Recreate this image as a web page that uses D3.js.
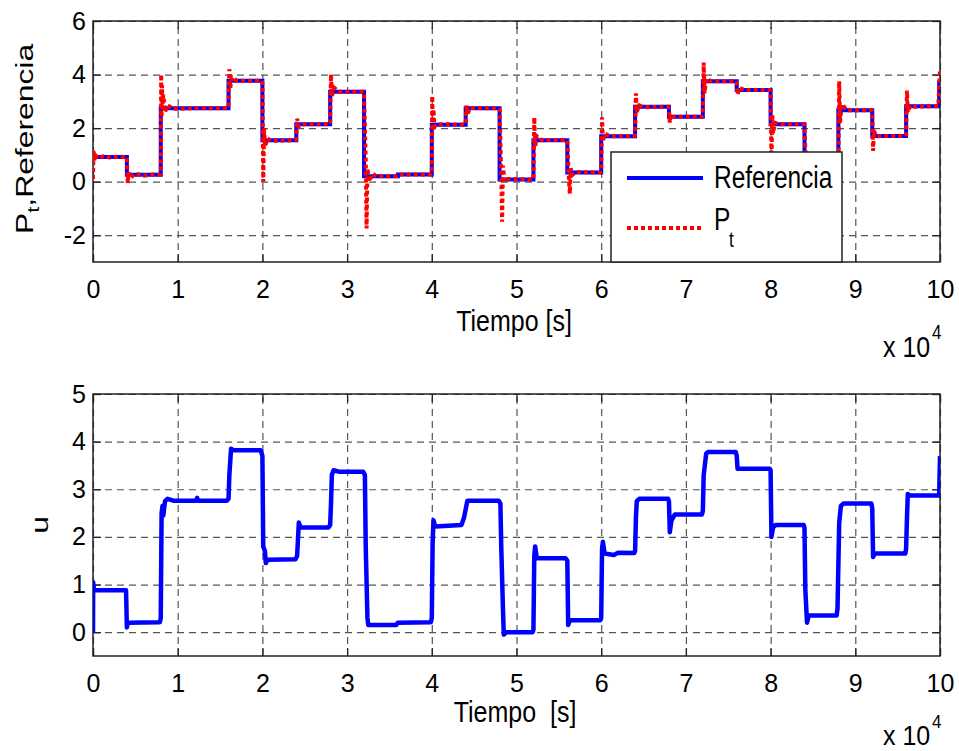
<!DOCTYPE html>
<html>
<head>
<meta charset="utf-8">
<script src="https://cdn.jsdelivr.net/npm/d3@7"></script>
<style>
  body { margin: 0; background: #fff; }
  text { font-family: "Liberation Sans", Arial, sans-serif; fill: #000; }
</style>
</head>
<body>
<div id="chart"></div>
<script>
const width = 959;
const height = 751;

// x axis is in units of 10^4 s
const xTicks = [0, 1, 2, 3, 4, 5, 6, 7, 8, 9, 10];
const topYTicks = [-2, 0, 2, 4, 6];
const botYTicks = [0, 1, 2, 3, 4, 5];

// reference setpoint: switching times and held levels
const refTimes = [0, 0.4, 0.8, 1.6, 2.0, 2.4, 2.8, 3.2, 3.6, 4.0, 4.4, 4.8, 5.2, 5.6,
                  6.0, 6.4, 6.8, 7.2, 7.6, 8.0, 8.4, 8.8, 9.2, 9.6, 9.99, 10.0];
const refLevels = [0.92, 0.26, 2.74, 3.77, 1.55, 2.14, 3.36, 0.2, 0.27, 2.13, 2.74, 0.08, 1.55, 0.34,
                   1.7, 2.8, 2.42, 3.75, 3.42, 2.14, 0.35, 2.67, 1.71, 2.82, 3.7, 3.7];

// measured output P_t  [t (x10^4 s), value]
const ptPoints = [
  [0, 0.1], [0.005, 1.15], [0.015, 0.8], [0.03, 0.98], [0.06, 0.86], [0.12, 0.95], [0.2, 0.9], [0.3, 0.93], [0.39, 0.92],
  [0.4, 0.9], [0.41, -0.05], [0.42, 0.35], [0.44, 0.15], [0.5, 0.3], [0.6, 0.22], [0.7, 0.27], [0.79, 0.26],
  [0.8, 0.3], [0.805, 4.0], [0.81, 2.4], [0.815, 3.6], [0.82, 2.9], [0.83, 3.25], [0.85, 2.6], [0.88, 2.85], [0.95, 2.72], [1.2, 2.74], [1.59, 2.74],
  [1.6, 2.8], [1.61, 4.2], [1.62, 3.5], [1.64, 3.9], [1.7, 3.77], [1.99, 3.77],
  [2.0, 3.7], [2.01, 0.0], [2.02, 2.0], [2.03, 1.3], [2.06, 1.62], [2.1, 1.52], [2.39, 1.55],
  [2.4, 1.6], [2.41, 2.35], [2.43, 2.05], [2.5, 2.15], [2.79, 2.14],
  [2.8, 2.2], [2.81, 4.0], [2.82, 3.2], [2.85, 3.5], [2.9, 3.36], [3.19, 3.36],
  [3.2, 3.3], [3.22, 0.8], [3.23, -1.75], [3.24, 0.5], [3.26, 0.0], [3.3, 0.3], [3.35, 0.2], [3.59, 0.2],
  [3.62, 0.27], [3.99, 0.27],
  [4.0, 0.3], [4.005, 3.2], [4.01, 2.3], [4.02, 2.7], [4.03, 2.05], [4.06, 2.15], [4.39, 2.13],
  [4.4, 2.2], [4.41, 2.85], [4.42, 2.5], [4.45, 2.75], [4.79, 2.74],
  [4.8, 2.7], [4.82, 0.3], [4.83, -1.5], [4.84, 0.6], [4.86, 0.0], [4.9, 0.1], [5.19, 0.08],
  [5.2, 0.1], [5.21, 2.4], [5.22, 1.3], [5.24, 1.7], [5.3, 1.55], [5.59, 1.56],
  [5.6, 1.5], [5.62, 0.0], [5.63, -0.45], [5.64, 0.5], [5.66, 0.25], [5.7, 0.36], [5.99, 0.34],
  [6.0, 0.4], [6.01, 2.4], [6.02, 1.5], [6.04, 1.8], [6.1, 1.7], [6.39, 1.7],
  [6.4, 1.75], [6.41, 3.3], [6.42, 2.6], [6.45, 2.85], [6.5, 2.78], [6.79, 2.8],
  [6.8, 2.75], [6.81, 2.2], [6.82, 2.5], [6.85, 2.42], [7.19, 2.42],
  [7.2, 2.5], [7.21, 4.45], [7.22, 3.3], [7.24, 3.85], [7.3, 3.75], [7.59, 3.75],
  [7.6, 3.7], [7.61, 3.25], [7.63, 3.5], [7.7, 3.42], [7.99, 3.42],
  [8.0, 3.4], [8.01, 0.8], [8.02, 2.5], [8.03, 1.8], [8.05, 2.2], [8.1, 2.14], [8.39, 2.14],
  [8.4, 2.1], [8.42, 0.3], [8.45, 0.4], [8.79, 0.35],
  [8.8, 0.4], [8.81, 3.75], [8.82, 2.2], [8.84, 2.9], [8.9, 2.67], [9.19, 2.67],
  [9.2, 2.6], [9.21, 1.15], [9.22, 1.9], [9.25, 1.7], [9.59, 1.71],
  [9.6, 1.75], [9.61, 3.4], [9.62, 2.6], [9.65, 2.85], [9.7, 2.8], [9.98, 2.82],
  [9.99, 3.5], [10.0, 4.2]
];

// control signal u  [t (x10^4 s), value]
const uPoints = [
  [0, 0], [0.002, 1.05], [0.01, 0.9], [0.05, 0.88], [0.38, 0.88],
  [0.39, 0.88], [0.4, 0.1], [0.41, 0.2], [0.79, 0.21],
  [0.8, 0.3], [0.81, 2.5], [0.82, 2.65], [0.83, 2.45], [0.85, 2.75], [0.88, 2.8], [0.95, 2.76], [1.22, 2.76], [1.23, 2.82], [1.24, 2.76], [1.58, 2.76],
  [1.6, 2.8], [1.61, 3.3], [1.63, 3.85], [1.66, 3.82], [1.98, 3.82],
  [2.0, 3.7], [2.01, 1.8], [2.03, 1.7], [2.04, 1.45], [2.06, 1.52], [2.39, 1.53],
  [2.41, 1.6], [2.42, 1.95], [2.43, 2.3], [2.45, 2.2], [2.78, 2.2],
  [2.8, 2.25], [2.81, 2.7], [2.82, 3.3], [2.84, 3.4], [2.9, 3.37], [3.19, 3.37],
  [3.21, 3.3], [3.22, 1.8], [3.24, 0.3], [3.25, 0.15], [3.58, 0.15],
  [3.6, 0.2], [3.99, 0.21],
  [4.0, 0.3], [4.01, 1.9], [4.02, 2.35], [4.04, 2.22], [4.35, 2.25], [4.38, 2.4], [4.42, 2.76], [4.79, 2.76],
  [4.81, 2.7], [4.82, 1.8], [4.84, 0.5], [4.85, -0.05], [4.88, 0.0], [5.19, 0.0],
  [5.2, 0.05], [5.21, 1.6], [5.22, 1.8], [5.24, 1.55], [5.58, 1.55],
  [5.6, 1.5], [5.61, 0.15], [5.63, 0.25], [5.99, 0.25],
  [6.0, 0.3], [6.01, 1.75], [6.02, 1.9], [6.04, 1.65], [6.15, 1.62], [6.2, 1.67], [6.39, 1.66],
  [6.4, 1.7], [6.41, 2.4], [6.42, 2.75], [6.45, 2.8], [6.79, 2.8],
  [6.8, 2.75], [6.81, 2.1], [6.83, 2.35], [6.87, 2.47], [7.19, 2.47],
  [7.2, 2.55], [7.21, 3.3], [7.24, 3.75], [7.26, 3.78], [7.59, 3.78],
  [7.6, 3.7], [7.61, 3.43], [7.99, 3.43],
  [8.0, 3.4], [8.01, 2.0], [8.03, 2.2], [8.06, 2.25], [8.39, 2.25],
  [8.4, 2.2], [8.41, 0.9], [8.43, 0.2], [8.45, 0.35], [8.78, 0.35],
  [8.79, 0.5], [8.81, 2.3], [8.83, 2.65], [8.86, 2.7], [9.19, 2.7],
  [9.2, 2.6], [9.21, 1.58], [9.23, 1.65], [9.59, 1.65],
  [9.6, 1.75], [9.61, 2.4], [9.62, 2.9], [9.64, 2.87], [9.99, 2.87],
  [10.0, 3.7]
];

const BLUE = "#0000ff";
const RED = "#ff0000";

const svg = d3.select("#chart").append("svg")
    .attr("width", width)
    .attr("height", height);

const plotLeft = 93, plotRight = 940;
const x = d3.scaleLinear().domain([0, 10]).range([plotLeft, plotRight]);
const fmt = d => String(d);   // plain hyphen minus, no decimals

// draw one axes box with grid, ticks and labels
function drawPanel(top, bottom, yDomain, yTicks, id) {
    const y = d3.scaleLinear().domain(yDomain).range([bottom, top]);
    const g = svg.append("g");

    svg.append("clipPath").attr("id", id)
        .append("rect")
        .attr("x", plotLeft).attr("y", top)
        .attr("width", plotRight - plotLeft).attr("height", bottom - top);

    // grid
    g.append("g")
        .attr("transform", `translate(0,${bottom})`)
        .call(d3.axisBottom(x).tickValues(xTicks).tickSize(-(bottom - top)).tickFormat(""))
        .call(a => a.select(".domain").remove())
        .selectAll("line")
        .attr("stroke", "#555").attr("stroke-width", 1.2).attr("stroke-dasharray", "7,5");
    g.append("g")
        .attr("transform", `translate(${plotLeft},0)`)
        .call(d3.axisLeft(y).tickValues(yTicks).tickSize(-(plotRight - plotLeft)).tickFormat(""))
        .call(a => a.select(".domain").remove())
        .selectAll("line")
        .attr("stroke", "#555").attr("stroke-width", 1.2).attr("stroke-dasharray", "7,5");

    // ticks and labels
    const axB = g.append("g")
        .attr("transform", `translate(0,${bottom})`)
        .call(d3.axisBottom(x).tickValues(xTicks).tickFormat(fmt).tickSize(-8).tickPadding(18).tickSizeOuter(0));
    const axL = g.append("g")
        .attr("transform", `translate(${plotLeft},0)`)
        .call(d3.axisLeft(y).tickValues(yTicks).tickFormat(fmt).tickSize(-8).tickPadding(7).tickSizeOuter(0));
    g.append("g")
        .attr("transform", `translate(0,${top})`)
        .call(d3.axisTop(x).tickValues(xTicks).tickSize(-8).tickFormat("").tickSizeOuter(0));
    g.append("g")
        .attr("transform", `translate(${plotRight},0)`)
        .call(d3.axisRight(y).tickValues(yTicks).tickSize(-8).tickFormat("").tickSizeOuter(0));

    g.selectAll(".tick line").filter(function () { return !this.getAttribute("stroke-dasharray"); })
        .attr("stroke", "#222").attr("stroke-width", 1.3);
    g.selectAll(".domain").remove();
    [axB, axL].forEach(a => a.selectAll("text")
        .attr("font-size", 25)
        .attr("font-family", '"Liberation Sans", Arial, sans-serif')
        .attr("fill", "#000"));

    // box
    g.append("rect")
        .attr("x", plotLeft).attr("y", top)
        .attr("width", plotRight - plotLeft).attr("height", bottom - top)
        .attr("fill", "none").attr("stroke", "#222").attr("stroke-width", 1.5);

    return y;
}

// stretched text helper (figure text is taller than its width)
function label(xp, yp, txt, size, opts = {}) {
    const t = svg.append("text")
        .attr("transform", `translate(${xp},${yp}) scale(1,${opts.sy || 1.2})`)
        .attr("font-size", size)
        .attr("text-anchor", opts.anchor || "start")
        .style("white-space", "pre");
    return t.text(txt);
}

// ---------- top panel ----------
const yTop = drawPanel(21, 262, [-3, 6], topYTicks, "clipTop");

const refLine = d3.line()
    .x(i => x(refTimes[i]))
    .y(i => yTop(refLevels[i]))
    .curve(d3.curveStepAfter);

const topLines = svg.append("g").attr("clip-path", "url(#clipTop)");
topLines.append("path")
    .attr("d", refLine(d3.range(refTimes.length)))
    .attr("fill", "none").attr("stroke", BLUE).attr("stroke-width", 4);

topLines.append("path")
    .attr("d", d3.line().x(d => x(d[0])).y(d => yTop(d[1]))(ptPoints))
    .attr("fill", "none").attr("stroke", RED).attr("stroke-width", 4)
    .attr("stroke-dasharray", "4,3");

// legend
const leg = svg.append("g");
leg.append("rect")
    .attr("x", 611).attr("y", 152).attr("width", 231).attr("height", 110)
    .attr("fill", "#fff").attr("stroke", "#222").attr("stroke-width", 1.5);
leg.append("line").attr("x1", 627).attr("x2", 703).attr("y1", 178).attr("y2", 178)
    .attr("stroke", BLUE).attr("stroke-width", 4);
leg.append("line").attr("x1", 627).attr("x2", 703).attr("y1", 228).attr("y2", 228)
    .attr("stroke", RED).attr("stroke-width", 4).attr("stroke-dasharray", "4,3");
label(714, 188, "Referencia", 24.5, { sy: 1.25 });
label(714, 230, "P", 24.5, { sy: 1.25 });
label(729, 247, "t", 17, { sy: 1.25 });

// axis labels top
label(514, 331, "Tiempo [s]", 25, { anchor: "middle", sy: 1.18 });
label(883, 357, "x 10", 25, { sy: 1.15 });
label(932, 339, "4", 17, { sy: 1.15 });
const yl = svg.append("text")
    .attr("transform", "translate(33,139) scale(1,1.3) rotate(-90)")
    .attr("font-size", 24.5)
    .attr("text-anchor", "middle");
yl.append("tspan").text("P");
yl.append("tspan").attr("font-size", 17).attr("dy", 6).text("t");
yl.append("tspan").attr("dy", -6).text(",Referencia");

// ---------- bottom panel ----------
const yBot = drawPanel(394, 656, [-0.5, 5], botYTicks, "clipBot");

svg.append("g").attr("clip-path", "url(#clipBot)")
    .append("path")
    .attr("d", d3.line().x(d => x(d[0])).y(d => yBot(d[1]))(uPoints))
    .attr("fill", "none").attr("stroke", BLUE).attr("stroke-width", 4.5)
    .attr("stroke-linejoin", "round");

label(515, 722, "Tiempo  [s]", 25, { anchor: "middle", sy: 1.18 });
label(883, 745, "x 10", 25, { sy: 1.12 });
label(932, 728, "4", 17, { sy: 1.12 });
svg.append("text")
    .attr("transform", "translate(48,525) scale(1,1.3) rotate(-90)")
    .attr("font-size", 24.5)
    .attr("text-anchor", "middle")
    .text("u");
</script>
</body>
</html>
